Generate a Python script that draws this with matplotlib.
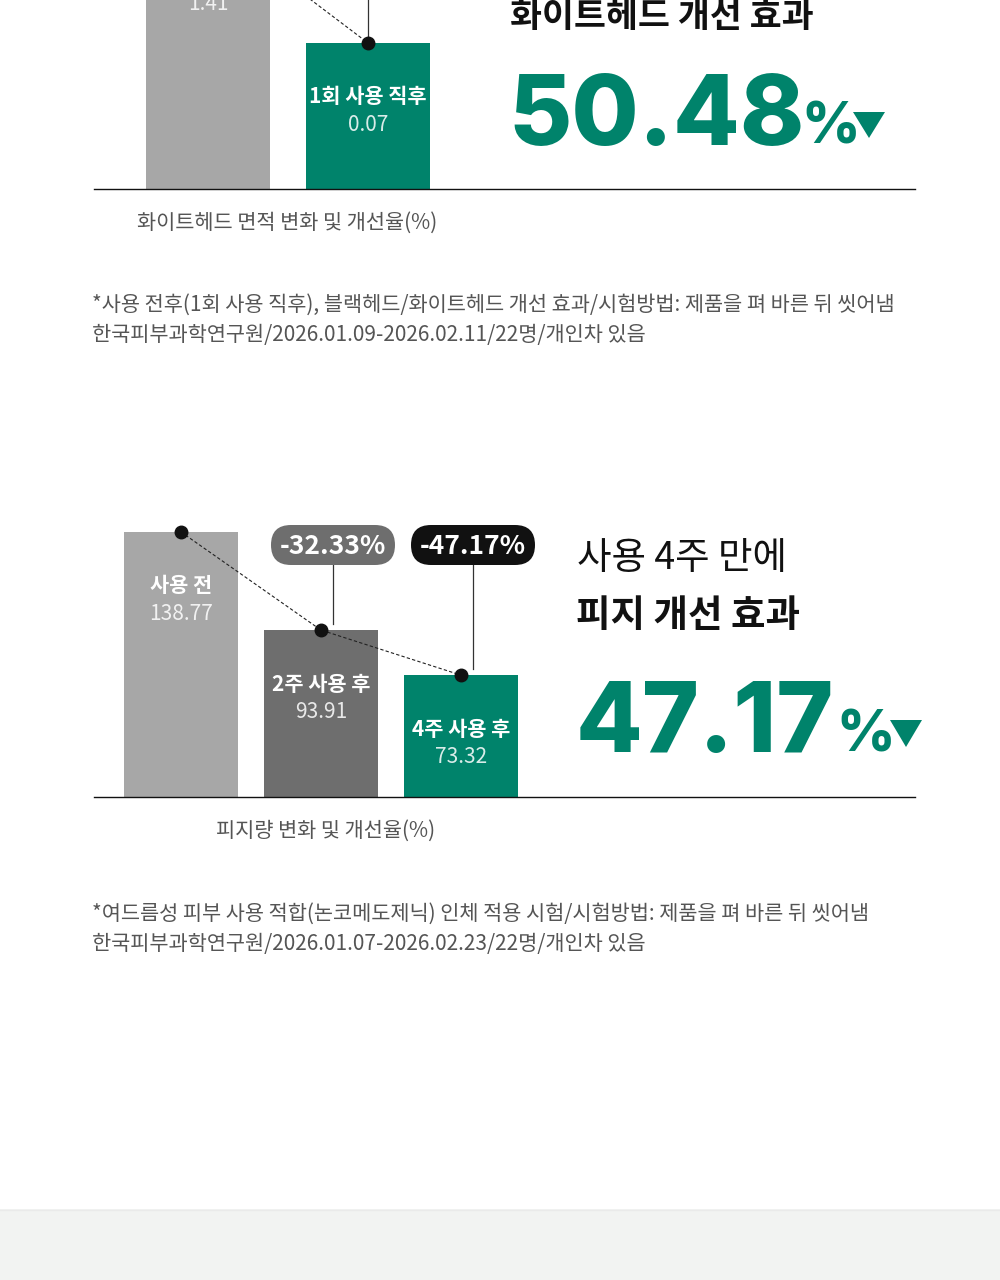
import matplotlib
matplotlib.use('Agg')
import matplotlib.pyplot as plt
from matplotlib.patches import FancyBboxPatch, Rectangle, Polygon
from matplotlib.transforms import offset_copy

plt.rcParams['font.family'] = ['Noto Sans CJK KR', 'DejaVu Sans']

# ---------------- data ----------------
wh_labels = ['사용 전', '1회 사용 직후']
wh_values = [1.41, 0.07]
wh_title = '화이트헤드 개선 효과'
wh_rate = '50.48'
wh_caption = '화이트헤드 면적 변화 및 개선율(%)'
wh_notes = ['*사용 전후(1회 사용 직후), 블랙헤드/화이트헤드 개선 효과/시험방법: 제품을 펴 바른 뒤 씻어냄',
            '한국피부과학연구원/2026.01.09-2026.02.11/22명/개인차 있음']

sb_labels = ['사용 전', '2주 사용 후', '4주 사용 후']
sb_values = [138.77, 93.91, 73.32]
sb_changes = ['-32.33%', '-47.17%']
sb_subtitle = '사용 4주 만에'
sb_title = '피지 개선 효과'
sb_rate = '47.17'
sb_caption = '피지량 변화 및 개선율(%)'
sb_notes = ['*여드름성 피부 사용 적합(논코메도제닉) 인체 적용 시험/시험방법: 제품을 펴 바른 뒤 씻어냄',
            '한국피부과학연구원/2026.01.07-2026.02.23/22명/개인차 있음']

GREEN = '#00836B'
LGRAY = '#A7A7A7'
DGRAY = '#6E6E6E'
TXT = '#555555'

W, H = 1000, 1280
fig = plt.figure(figsize=(W / 100, H / 100), dpi=100)
fig.patch.set_facecolor('white')


def fbox(left, top, right, bottom):
    return [left / W, 1 - bottom / H, (right - left) / W, (bottom - top) / H]


def to_px(ax, x, y):
    dx, dy = ax.transData.transform((x, y))
    return dx, H - dy


def style_axes(ax):
    ax.patch.set_alpha(0)
    for s in ['top', 'left', 'right']:
        ax.spines[s].set_visible(False)
    ax.spines['bottom'].set_linewidth(1.0)
    ax.spines['bottom'].set_color('#111111')
    ax.set_xticks([])
    ax.set_yticks([])


# ---------------- top chart (whitehead) ----------------
ax1 = fig.add_axes(fbox(94, 0, 915, 189))
style_axes(ax1)
base1 = -1.547
ax1.set_xlim(-0.7125, 4.419)
ax1.set_ylim(base1, 0.546)
x1 = list(range(len(wh_values)))
ax1.bar(x1, [v - base1 for v in wh_values], bottom=base1, width=0.775,
        color=[LGRAY, GREEN], zorder=1)
ax1.plot(x1, wh_values, ls=(0, (3, 2)), color='#222222', lw=0.8, zorder=2)
ax1.plot(x1, wh_values, 'o', color='#111111', ms=9, zorder=3)
ax1.plot([x1[1], x1[1]], [wh_values[1], 0.546], color='#333333', lw=0.9, zorder=2)
for i, (lab, v) in enumerate(zip(wh_labels, wh_values)):
    if i > 0:
        ax1.text(i, v, lab, transform=offset_copy(ax1.transData, fig=fig, y=-54, units='dots'),
                 ha='center', va='center', fontsize=15, fontweight='bold', color='white')
    ax1.text(i, v, f'{v:.2f}', transform=offset_copy(ax1.transData, fig=fig, y=-82, units='dots'),
             ha='center', va='center', fontsize=15, color='white', alpha=0.85)

# ---------------- bottom chart (sebum) ----------------
ax2 = fig.add_axes(fbox(94, 510, 915, 797))
style_axes(ax2)
base2 = 17.6
ax2.set_xlim(-0.621, 5.243)
ax2.set_ylim(base2, 148.8)
x2 = list(range(len(sb_values)))
ax2.bar(x2, [v - base2 for v in sb_values], bottom=base2, width=0.814,
        color=[LGRAY, DGRAY, GREEN], zorder=1)
ax2.plot(x2, sb_values, ls=(0, (3, 2)), color='#222222', lw=0.8, zorder=2)
ax2.plot(x2, sb_values, 'o', color='#111111', ms=9, zorder=3)
for i, (lab, v) in enumerate(zip(sb_labels, sb_values)):
    ax2.text(i, v, lab, transform=offset_copy(ax2.transData, fig=fig, y=-54, units='dots'),
             ha='center', va='center', fontsize=15, fontweight='bold', color='white')
    ax2.text(i, v, f'{v:.2f}', transform=offset_copy(ax2.transData, fig=fig, y=-82, units='dots'),
             ha='center', va='center', fontsize=15, color='white', alpha=0.85)

# ---------------- overlay ----------------
ov = fig.add_axes([0, 0, 1, 1])
ov.set_xlim(0, W)
ov.set_ylim(H, 0)
ov.axis('off')
ov.patch.set_alpha(0)

# pills
pill_colors = [DGRAY, '#111111']
for k, (txt, pc) in enumerate(zip(sb_changes, pill_colors)):
    i = k + 1
    cx, _ = to_px(ax2, i + 0.086, sb_values[i])
    _, ytop = to_px(ax2, i, sb_values[i])
    ov.plot([cx, cx], [564, ytop - 6], color='#333333', lw=0.9, zorder=2)
    ov.add_patch(FancyBboxPatch((cx - 62, 525), 124, 40,
                                boxstyle='round,pad=0,rounding_size=20',
                                fc=pc, ec='none', zorder=3))
    ov.text(cx, 547, txt, ha='center', va='center', fontsize=19,
            fontweight='bold', color='white', zorder=4)

NUMFONT = ['Inter', 'DejaVu Sans']
# right side, top block
ov.text(510, 16, wh_title, ha='left', va='center', fontsize=25, fontweight='bold', color='#111111')
ov.text(508, 145, wh_rate, ha='left', va='baseline', fontsize=70, fontweight='heavy',
        family=NUMFONT, color=GREEN)
ov.text(801, 144, '%', ha='left', va='baseline', fontsize=41, fontweight='heavy',
        family=NUMFONT, color=GREEN)
ov.add_patch(Polygon([[853, 112], [885, 112], [869, 138]], closed=True, fc=GREEN, ec='none'))

# right side, bottom block
ov.text(577, 558, sb_subtitle, ha='left', va='center', fontsize=27, color='#111111')
ov.text(576, 616, sb_title, ha='left', va='center', fontsize=27, fontweight='bold', color='#111111')
ov.text(576, 752, sb_rate, ha='left', va='baseline', fontsize=70, fontweight='heavy',
        family=NUMFONT, color=GREEN)
ov.text(836, 752, '%', ha='left', va='baseline', fontsize=41, fontweight='heavy',
        family=NUMFONT, color=GREEN)
ov.add_patch(Polygon([[890, 720], [922, 720], [906, 747]], closed=True, fc=GREEN, ec='none'))

# captions
ov.text(287, 223, wh_caption, ha='center', va='center', fontsize=15, color=TXT)
ov.text(326, 831, sb_caption, ha='center', va='center', fontsize=15, color=TXT)

# footnotes
for j, line in enumerate(wh_notes):
    ov.text(92, 305 + 30 * j, line, ha='left', va='center', fontsize=15, color=TXT)
for j, line in enumerate(sb_notes):
    ov.text(92, 914 + 30 * j, line, ha='left', va='center', fontsize=15, color=TXT)

# bottom band
ov.add_patch(Rectangle((0, 1209), W, H - 1209, fc='#F2F3F2', ec='none'))
ov.plot([0, W], [1209.5, 1209.5], color='#EAEAEA', lw=1)

fig.savefig('out.png', dpi=100, facecolor='white')
